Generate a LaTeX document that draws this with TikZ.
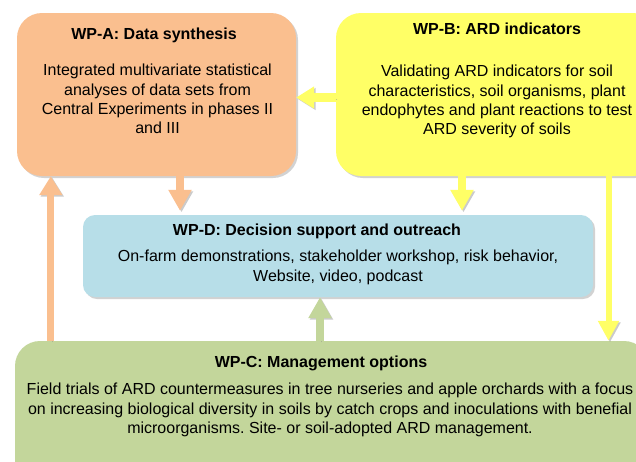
\documentclass[tikz,border=0pt]{standalone}
\usepackage{fontspec}
\setmainfont{Liberation Sans}
\usetikzlibrary{
    arrows.meta,
    positioning,
    shadows
}
\definecolor{WPOrange}{RGB}{250,191,143}
\definecolor{WPYellow}{RGB}{255,255,102}
\definecolor{WPBlue}{RGB}{183,222,232}
\definecolor{WPGreen}{RGB}{195,214,155}
\frenchspacing

\begin{document}
\begin{tikzpicture}[
    x=1pt,
    y=-1pt,
    font=\fontsize{16}{19.2}\selectfont,
    wpbox/.style={
        rounded corners=25pt,
        inner sep=0pt,
        drop shadow={shadow xshift=2pt, shadow yshift=-2pt, opacity=0.35, fill=black!50}
    },
    wptitle/.style={anchor=base, font=\fontsize{16}{19.2}\selectfont\bfseries},
    wpbody/.style={anchor=base, align=center},
    flow/.style={
        line width=8pt,
        -{Triangle[length=21pt, width=22pt]},
        preaction={draw=black!45, opacity=0.45, transform canvas={shift={(1.5pt,-1.5pt)}}}
    }
]

\useasboundingbox (0,0) rectangle (636,461);
\fill[white] (0,0) rectangle (636,461);
\clip (0,0) rectangle (636,461);

\node[
    wpbox,
    fill=WPOrange,
    minimum width=279pt,
    minimum height=163pt,
    label={[wptitle, xshift=-2.5pt, yshift=-26.3pt]north:{WP-A: Data synthesis}},
    label={[wpbody, xshift=1pt, yshift=-120.6pt]north:{Integrated multivariate statistical\\analyses of data sets from\\Central Experiments in phases II\\and III}}
] (wpA) at (156.5,94.5) {};

\node[
    wpbox,
    fill=WPYellow,
    minimum width=322pt,
    minimum height=163pt,
    label={[wptitle, yshift=-21.6pt]north:{WP-B: ARD indicators}},
    label={[wpbody, yshift=-121.6pt]north:{Validating ARD indicators for soil\\characteristics, soil organisms, plant\\endophytes and plant reactions to test\\ARD severity of soils}}
] (wpB) at (497,94.5) {};

\node[
    wpbox,
    rounded corners=12pt,
    fill=WPBlue,
    minimum width=510pt,
    minimum height=82pt,
    label={[wptitle, xshift=-21pt, yshift=-20.5pt]north:{WP-D: Decision support and outreach}},
    label={[wpbody, yshift=-66.2pt]north:{On-farm demonstrations, stakeholder workshop, risk behavior,\\Website, video, podcast}}
] (wpD) at (338,256) {};

\node[
    wpbox,
    fill=WPGreen,
    minimum width=634pt,
    minimum height=158pt,
    label={[wptitle, xshift=-11pt, yshift=-26.5pt]north:{WP-C: Management options}},
    label={[wpbody, xshift=-2pt, yshift=-92.4pt]north:{Field trials of ARD countermeasures in tree nurseries and apple orchards with a focus\\on increasing biological diversity in soils by catch crops and inoculations with benefial\\microorganisms. Site- or soil-adopted ARD management.}}
] (wpC) at (332,420) {};

\draw[flow, draw=WPYellow, line width=9pt, -{Triangle[length=18pt, width=21pt]}]
    ([yshift=-3pt]wpB.west) -- ([yshift=-3pt]wpB.west -| wpA.east);
\draw[flow, draw=WPOrange, shorten >=4pt]
    ([xshift=23.5pt]wpA.south) -- ([xshift=23.5pt]wpA.south |- wpD.north);
\draw[flow, draw=WPYellow, shorten >=4pt]
    ([xshift=-35pt]wpB.south) -- ([xshift=-35pt]wpB.south |- wpD.north);
\draw[flow, draw=WPGreen]
    ([xshift=-12pt]wpC.north) -- ([xshift=-12pt]wpC.north |- wpD.south);
\draw[flow, draw=WPOrange, line width=7pt, -{Triangle[length=19pt, width=22pt]}]
    ([xshift=36pt]wpC.north west) -- ([xshift=36pt]wpC.north west |- wpA.south);
\draw[flow, draw=WPYellow, line width=6pt, -{Triangle[length=20pt, width=20pt]}]
    ([xshift=111.5pt]wpB.south) -- ([xshift=111.5pt]wpB.south |- wpC.north);

\end{tikzpicture}
\end{document}
